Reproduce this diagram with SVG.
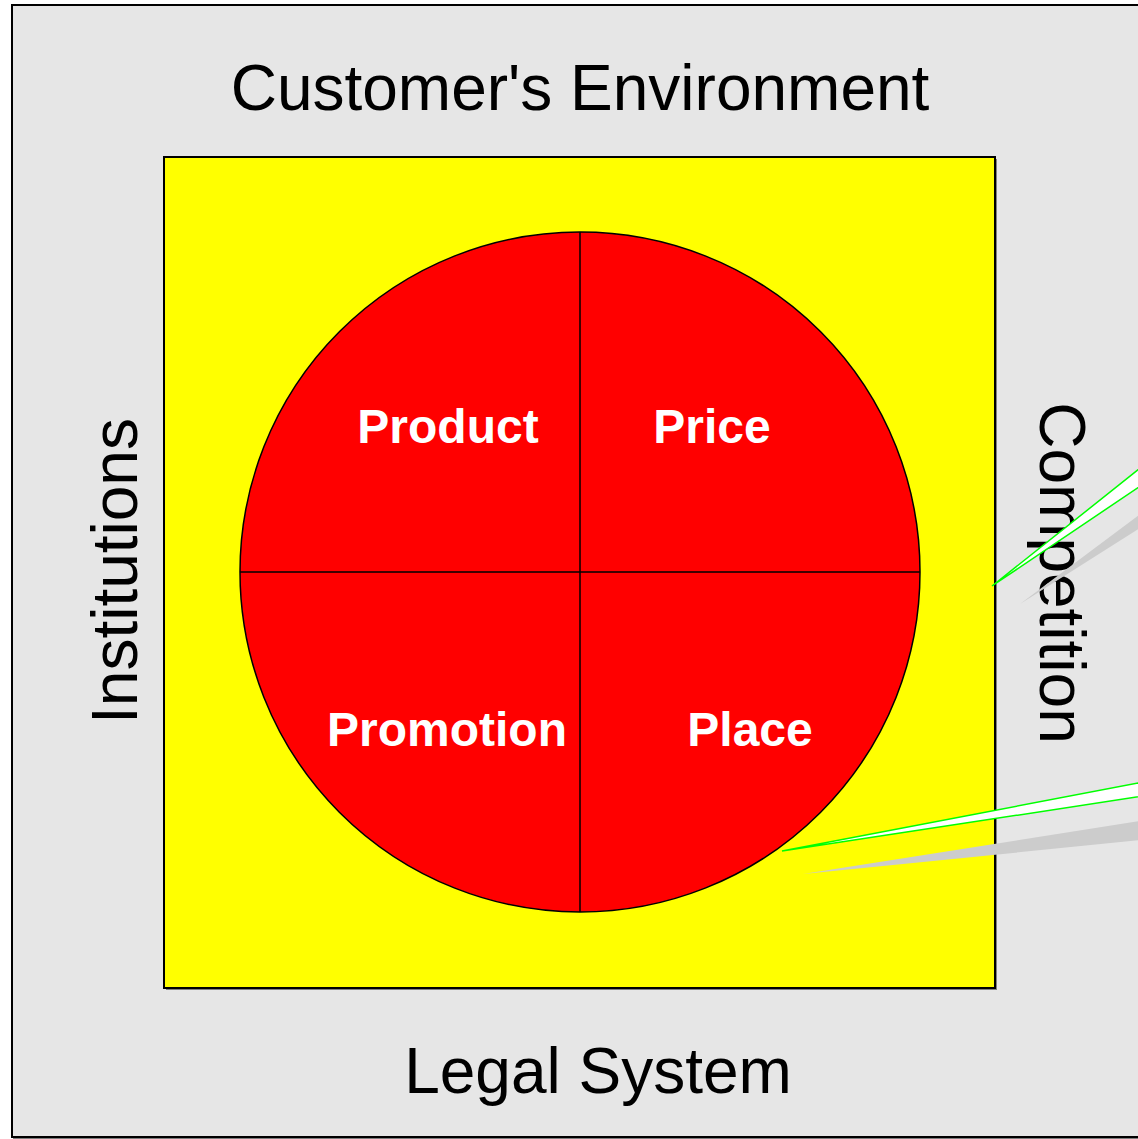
<svg xmlns="http://www.w3.org/2000/svg" width="1138" height="1139" viewBox="0 0 1138 1139">
<style>
.lbl{font-family:"Liberation Sans",Arial,sans-serif;font-size:64px;fill:#000}
.in{font-family:"Liberation Sans",Arial,sans-serif;font-size:48px;font-weight:bold;fill:#fff;text-anchor:middle}
.wedge{fill:#fff;stroke:#00ff00;stroke-width:1.5}
.shadow{fill:#cccccc;stroke:none}
.div{stroke:#000;stroke-width:1.5;fill:none}
</style>
<g id="environment">
<rect x="13" y="6" width="1200" height="1133" fill="#7f7f7f"/>
<rect x="12" y="5" width="1200" height="1132" fill="#e6e6e6" stroke="#000" stroke-width="2"/>
<text class="lbl" x="580" y="110" text-anchor="middle">Customer's Environment</text>
<text class="lbl" x="598" y="1093" text-anchor="middle">Legal System</text>
<text class="lbl" text-anchor="middle" transform="translate(137,571) rotate(-90)">Institutions</text>
<text class="lbl" text-anchor="middle" transform="translate(1040,573) rotate(90)">Competition</text>
</g>
<g id="company">
<rect x="166" y="159" width="831" height="831" fill="#808080"/>
<rect x="164" y="157" width="831" height="831" fill="#ffff00" stroke="#000" stroke-width="2"/>
</g>
<g id="mix">
<circle cx="580" cy="572" r="340" fill="#ff0000" stroke="#000" stroke-width="1.5"/>
<line class="div" x1="580" y1="232" x2="580" y2="912"/>
<line class="div" x1="240" y1="572" x2="920" y2="572"/>
</g>
<g id="product"><text class="in" x="448" y="443">Product</text></g>
<g id="price"><text class="in" x="712" y="443">Price</text></g>
<g id="promotion"><text class="in" x="447" y="746">Promotion</text></g>
<g id="place"><text class="in" x="750" y="746">Place</text></g>
<g id="connectors">
<polygon class="shadow" points="1020,604 1348,359 1348,396"/>
<polygon class="wedge" points="992,586 1320,325 1320,365"/>
<polygon class="shadow" points="803,874 1400,780 1400,814"/>
<polygon class="wedge" points="782,851 1400,733 1400,757"/>
</g>
</svg>
